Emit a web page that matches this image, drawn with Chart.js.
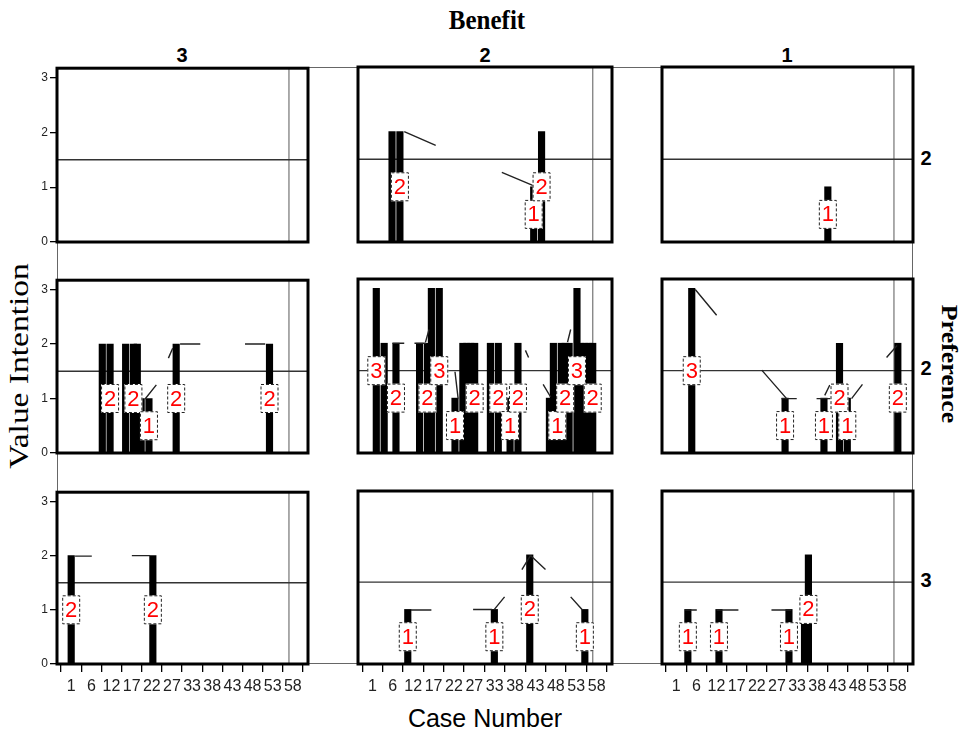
<!DOCTYPE html>
<html>
<head>
<meta charset="utf-8">
<script src="https://cdn.jsdelivr.net/npm/chart.js@4.4.1/dist/chart.umd.min.js"></script>
<style>
  body { margin: 0; background: #fff; }
  #wrap { position: relative; width: 964px; height: 730px; overflow: hidden; font-family: "Liberation Sans", Arial, sans-serif; }
  .t { position: absolute; white-space: nowrap; transform-origin: center center; }
  canvas { position: absolute; }
  #frame { position: absolute; left: 57px; top: 67px; width: 856px; height: 597px; border: 1px solid #666; box-sizing: border-box; }
</style>
</head>
<body>
<div id="wrap">
  <div id="frame"></div>
  <div class="t" style="left:487px;top:20px;font:bold 25px 'Liberation Serif',serif;transform:translate(-50%,-50%) scaleY(1.1);">Benefit</div>
  <div class="t" style="left:182px;top:55px;font:bold 20px 'Liberation Sans',Arial;transform:translate(-50%,-50%);">3</div>
  <div class="t" style="left:485px;top:55px;font:bold 20px 'Liberation Sans',Arial;transform:translate(-50%,-50%);">2</div>
  <div class="t" style="left:787px;top:55px;font:bold 20px 'Liberation Sans',Arial;transform:translate(-50%,-50%);">1</div>
  <div class="t" style="left:926px;top:158px;font:bold 20px 'Liberation Sans',Arial;transform:translate(-50%,-50%);">2</div>
  <div class="t" style="left:926px;top:368px;font:bold 20px 'Liberation Sans',Arial;transform:translate(-50%,-50%);">2</div>
  <div class="t" style="left:926px;top:580px;font:bold 20px 'Liberation Sans',Arial;transform:translate(-50%,-50%);">3</div>
  <div class="t" style="left:949px;top:364px;font:bold 24px 'Liberation Serif',serif;transform:translate(-50%,-50%) rotate(90deg) scaleX(1.08);">Preference</div>
  <div class="t" style="left:19px;top:366px;font:27px 'Liberation Serif',serif;transform:translate(-50%,-50%) rotate(-90deg) scaleX(1.24);">Value Intention</div>
  <div class="t" style="left:485px;top:718px;font:25px 'Liberation Sans',Arial;transform:translate(-50%,-50%);">Case Number</div>
</div>
<script>
// tick labels on the case axis (equally spaced in the original)
const caseTicks = [1, 6, 12, 17, 22, 27, 33, 38, 43, 48, 53, 58];
const valueTicks = [0, 1, 2, 3];
const refValue = 1.5;
const refCase = 57;

// panels: row = Preference (2, 2, 3), column = Benefit (3, 2, 1)
const r1c1Cases = [];
const r1c1Values = [];
const r1c1Shown = [];

const r1c2Cases = [6, 8, 42, 44];
const r1c2Values = [2, 2, 1, 2];
const r1c2Shown = [0, 1, 1, 1];

const r1c3Cases = [40];
const r1c3Values = [1];
const r1c3Shown = [1];

const r2c1Cases = [9, 11, 15, 17, 18, 19, 21, 28, 52];
const r2c1Values = [2, 2, 2, 2, 2, 1, 1, 2, 2];
const r2c1Shown = [0, 1, 0, 1, 0, 0, 1, 1, 1];

const r2c2Cases = [2, 4, 7, 13, 15, 16, 18, 22, 24, 25, 26, 27, 31, 33, 36, 38, 46, 47, 48, 49, 50, 51, 53, 54, 55, 56, 57];
const r2c2Values = [3, 2, 2, 2, 2, 3, 3, 1, 2, 2, 2, 2, 2, 2, 1, 2, 1, 2, 1, 2, 2, 2, 3, 2, 2, 2, 2];
const r2c2Shown = [1, 0, 1, 0, 1, 0, 1, 1, 0, 0, 0, 1, 0, 1, 1, 1, 0, 0, 1, 0, 1, 0, 1, 0, 0, 0, 1];

const r2c3Cases = [5, 29, 39, 43, 45, 58];
const r2c3Values = [3, 1, 1, 2, 1, 2];
const r2c3Shown = [1, 1, 1, 1, 1, 1];

const r3c1Cases = [1, 22];
const r3c1Values = [2, 2];
const r3c1Shown = [1, 1];

const r3c2Cases = [10, 32, 41, 55];
const r3c2Values = [1, 1, 2, 1];
const r3c2Shown = [1, 1, 1, 1];

const r3c3Cases = [4, 12, 30, 34, 35];
const r3c3Values = [1, 1, 1, 1, 2];
const r3c3Shown = [1, 1, 1, 0, 1];

// label leader lines, [case1, value1, case2, value2]
const r1c1Leaders = [];
const r1c2Leaders = [[9.1, 2.0, 17.1, 1.75], [33.9, 1.26, 41.9, 1.02]];
const r1c3Leaders = [];
const r2c1Leaders = [[29.0, 2.0, 34.2, 2.0], [45.7, 2.0, 50.9, 2.0], [20.0, 0.99, 22.9, 1.25], [26.0, 1.74, 27.1, 1.92]];
const r2c2Leaders = [[6.1, 2.0, 9.1, 2.0], [11.7, 2.0, 14.7, 2.0], [14.5, 2.02, 15.4, 2.25], [22.0, 1.48, 22.8, 0.99],
  [39.9, 1.87, 40.7, 1.74], [44.4, 1.25, 46.3, 1.02], [50.6, 2.02, 51.4, 2.25], [36.2, 0.95, 37.0, 1.12]];
const r2c3Leaders = [[5.9, 2.98, 11.4, 2.51], [23.0, 1.51, 29.4, 0.99], [28.1, 0.99, 32.0, 0.99], [37.1, 0.99, 40.7, 0.99],
  [39.2, 1.05, 40.5, 1.24], [46.1, 0.99, 48.9, 1.25], [55.1, 1.74, 57.8, 1.96]];
const r3c1Leaders = [[2.0, 1.99, 6.3, 1.99], [16.6, 2.0, 21.3, 2.0]];
const r3c2Leaders = [[10.8, 0.99, 16.0, 0.99], [26.6, 1.0, 31.4, 1.0], [32.0, 1.0, 34.6, 1.23],
  [39.0, 1.73, 41.2, 1.99], [41.2, 1.99, 45.0, 1.73], [51.4, 1.23, 54.4, 0.99]];
const r3c3Leaders = [[3.3, 0.99, 6.3, 0.99], [11.4, 0.99, 17.0, 0.99], [25.5, 0.99, 30.6, 0.99]];

const panels = [
  [r1c1Cases, r1c1Values, r1c1Shown, r1c1Leaders], [r1c2Cases, r1c2Values, r1c2Shown, r1c2Leaders], [r1c3Cases, r1c3Values, r1c3Shown, r1c3Leaders],
  [r2c1Cases, r2c1Values, r2c1Shown, r2c1Leaders], [r2c2Cases, r2c2Values, r2c2Shown, r2c2Leaders], [r2c3Cases, r2c3Values, r2c3Shown, r2c3Leaders],
  [r3c1Cases, r3c1Values, r3c1Shown, r3c1Leaders], [r3c2Cases, r3c2Values, r3c2Shown, r3c2Leaders], [r3c3Cases, r3c3Values, r3c3Shown, r3c3Leaders]
];

const colLeft = [57, 358, 662], colWidth = [251, 254, 251];
const rowTop = [67, 279, 491], rowHeight = [175, 174, 173];
const PAD_L = 45, PAD_R = 8, PAD_T = 8, PAD_B = 42;
const X_MIN = -2.65, X_MAX = 61.9, Y_MAX = 3.17;

const labelBoxes = {
  id: 'labelBoxes',
  afterDatasetsDraw(chart) {
    const ctx = chart.ctx, xs = chart.scales.x, ys = chart.scales.y;
    chart.data.datasets[0].data.forEach(p => {
      if (!p.show) return;
      const x = xs.getPixelForValue(p.x), y = ys.getPixelForValue(p.y / 2);
      const w = 18, h = 29;
      ctx.save();
      ctx.fillStyle = '#fff';
      ctx.fillRect(x - w / 2, y - h / 2, w, h);
      ctx.setLineDash([3, 2]);
      ctx.strokeStyle = '#222';
      ctx.lineWidth = 1;
      ctx.strokeRect(x - w / 2 + 0.5, y - h / 2 + 0.5, w - 1, h - 1);
      ctx.fillStyle = '#ff0000';
      ctx.font = '22px "Liberation Sans", Arial';
      ctx.textAlign = 'center';
      ctx.textBaseline = 'middle';
      ctx.fillText(String(p.y), x, y + 1);
      ctx.restore();
    });
  },
  afterDraw(chart) {
    const a = chart.chartArea, ctx = chart.ctx;
    ctx.save();
    ctx.strokeStyle = '#000';
    ctx.lineWidth = 3;
    ctx.strokeRect(a.left, a.top, a.right - a.left, a.bottom - a.top);
    ctx.restore();
  }
};

const wrap = document.getElementById('wrap');
const tickPos = caseTicks.map((t, i) => caseTicks[0] + i * (caseTicks[caseTicks.length - 1] - caseTicks[0]) / (caseTicks.length - 1));

panels.forEach((p, k) => {
  const row = Math.floor(k / 3), col = k % 3;
  const isLeft = col === 0, isBottom = row === 2;
  const cv = document.createElement('canvas');
  const w = colWidth[col] + PAD_L + PAD_R, h = rowHeight[row] + PAD_T + PAD_B;
  cv.width = w; cv.height = h;
  cv.style.left = (colLeft[col] - PAD_L) + 'px';
  cv.style.top = (rowTop[row] - PAD_T) + 'px';
  cv.style.width = w + 'px'; cv.style.height = h + 'px';
  wrap.appendChild(cv);

  const [cases, values, shown, leaders] = p;
  const leaderPts = [];
  leaders.forEach(s => {
    leaderPts.push({ x: s[0], y: s[1] }, { x: s[2], y: s[3] }, { x: s[2], y: null });
  });

  new Chart(cv, {
    type: 'bar',
    data: {
      datasets: [{
        type: 'bar',
        data: cases.map((c, i) => ({ x: c, y: values[i], show: shown[i] })),
        backgroundColor: '#000',
        barThickness: 6.5,
        order: 1
      }, {
        type: 'line',
        data: [{ x: X_MIN, y: refValue }, { x: X_MAX, y: refValue }],
        borderColor: '#333', borderWidth: 1.4, pointRadius: 0, order: 2
      }, {
        type: 'line',
        data: [{ x: refCase, y: 0 }, { x: refCase, y: Y_MAX }],
        borderColor: '#888', borderWidth: 1.4, pointRadius: 0, order: 2
      }, {
        type: 'line',
        data: leaderPts,
        borderColor: '#222', borderWidth: 1.4, pointRadius: 0, spanGaps: false, order: 0
      }]
    },
    options: {
      responsive: false,
      animation: false,
      layout: { padding: { top: PAD_T, right: PAD_R, left: 0, bottom: 0 } },
      plugins: { legend: { display: false }, tooltip: { enabled: false } },
      scales: {
        x: {
          type: 'linear', min: X_MIN, max: X_MAX, offset: false,
          afterFit(s) { s.height = PAD_B; },
          afterBuildTicks(s) { s.ticks = tickPos.map(v => ({ value: v })); },
          border: { display: false },
          grid: { display: isBottom, drawOnChartArea: false, tickLength: 8, color: '#000', lineWidth: 1.3 },
          ticks: {
            display: isBottom, autoSkip: false, maxRotation: 0, minRotation: 0, padding: 5,
            color: '#222', font: { family: '"Liberation Sans", Arial', size: 16 },
            callback: (v, i) => caseTicks[i]
          }
        },
        y: {
          min: 0, max: Y_MAX,
          afterFit(s) { s.width = PAD_L; },
          afterBuildTicks(s) { s.ticks = valueTicks.map(v => ({ value: v })); },
          border: { display: false },
          grid: { display: isLeft, drawOnChartArea: false, tickLength: 7, color: '#000', lineWidth: 1.3 },
          ticks: {
            display: isLeft, padding: 2,
            color: '#222', font: { family: '"Liberation Sans", Arial', size: 12 }
          }
        }
      }
    },
    plugins: [labelBoxes]
  });
});
</script>
</body>
</html>
